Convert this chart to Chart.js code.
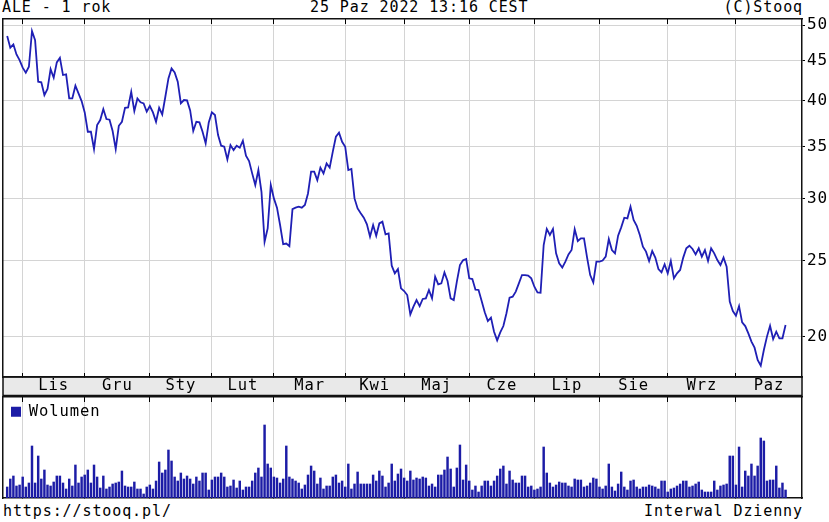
<!DOCTYPE html>
<html lang="pl">
<head>
<meta charset="utf-8">
<title>ALE - 1 rok</title>
<script src="https://cdn.jsdelivr.net/npm/chart.js@4.4.0/dist/chart.umd.min.js"></script>
<style>
  html, body { margin: 0; padding: 0; background: #fff; }
  #page {
    position: relative; width: 829px; height: 522px; overflow: hidden;
    font-family: "DejaVu Sans Mono", monospace; font-size: 15px;
    letter-spacing: 0.9px; color: #000;
  }
  .txt { position: absolute; line-height: 17px; white-space: nowrap; }
  canvas { position: absolute; left: 0; }
</style>
</head>
<body>
<div id="page">
  <div class="txt" style="left:2px; top:-1px;">ALE - 1 rok</div>
  <div class="txt" style="left:310px; top:-1px;">25 Paz 2022 13:16 CEST</div>
  <div class="txt" style="right:26px; top:-1px;">(C)Stooq</div>
  <canvas id="cena" width="829" height="397" style="top:0;"></canvas>
  <canvas id="wolumen" width="829" height="104" style="top:396px;"></canvas>
  <div class="txt" style="left:3px; top:503px;">https://stooq.pl/</div>
  <div class="txt" style="right:26px; top:503px;">Interwal Dzienny</div>
</div>

<script>
// miesiące i indeks pierwszej sesji w każdym z nich
const months = ['Lis', 'Gru', 'Sty', 'Lut', 'Mar', 'Kwi', 'Maj', 'Cze', 'Lip', 'Sie', 'Wrz', 'Paz'];
const monthStart = [5, 25, 46, 66, 86, 109, 128, 149, 170, 191, 213, 235];
const priceTicks = [20, 25, 30, 35, 40, 45, 50];

// kurs zamknięcia, sesje od 25.10.2021 do 25.10.2022
const prices = [
  48.41, 46.78, 47.24, 45.87, 45.11, 44.11, 43.47, 44.23, 49.13, 47.84,
  42.33, 42.25, 40.70, 41.43, 43.93, 42.83, 44.80, 45.42, 43.17, 43.25,
  40.30, 40.30, 41.83, 40.90, 39.99, 38.68, 36.54, 36.54, 34.73, 37.27,
  37.82, 39.06, 37.93, 37.86, 36.62, 34.73, 37.19, 37.63, 39.21, 39.25,
  41.10, 38.83, 40.30, 39.84, 39.72, 38.76, 39.41, 38.68, 37.63, 39.21,
  38.45, 40.50, 42.75, 44.02, 43.51, 42.33, 39.72, 40.11, 40.07, 38.91,
  36.62, 37.63, 37.56, 36.54, 35.31, 37.56, 38.68, 38.38, 36.19, 35.07,
  34.97, 33.69, 35.14, 34.62, 35.07, 34.86, 35.59, 34.06, 33.52, 32.33,
  31.24, 32.65, 30.63, 26.44, 27.50, 31.24, 30.04, 29.23, 27.78, 26.26,
  26.31, 26.11, 29.11, 29.23, 29.31, 29.23, 29.46, 30.48, 32.49, 32.49,
  31.70, 32.88, 32.33, 33.29, 32.88, 34.46, 36.01, 36.44, 35.48, 34.97,
  32.65, 32.75, 30.04, 29.17, 28.75, 28.38, 27.83, 26.84, 27.78, 26.92,
  27.91, 28.05, 27.02, 27.10, 24.65, 24.10, 24.41, 23.06, 22.88, 22.61,
  21.36, 21.85, 22.28, 21.89, 22.35, 22.39, 22.95, 22.39, 23.87, 23.33,
  23.40, 24.17, 23.56, 22.39, 22.28, 23.52, 24.70, 25.04, 25.14, 23.75,
  23.70, 22.97, 22.95, 22.22, 21.49, 20.95, 21.16, 20.30, 19.79, 20.26,
  20.64, 21.43, 22.44, 22.50, 22.84, 23.40, 23.98, 23.98, 23.94, 23.75,
  23.17, 22.79, 22.77, 26.19, 27.46, 26.98, 27.46, 25.56, 24.82, 24.51,
  24.94, 25.48, 25.81, 27.43, 26.50, 26.71, 26.71, 25.24, 23.98, 23.47,
  24.94, 24.94, 25.02, 25.31, 26.66, 25.81, 25.56, 26.92, 27.59, 28.38,
  28.33, 29.32, 28.19, 27.72, 26.98, 26.07, 25.69, 24.99, 25.73, 25.24,
  24.41, 24.17, 24.75, 24.10, 24.99, 23.75, 24.10, 24.34, 25.24, 25.94,
  26.14, 25.89, 25.48, 25.94, 25.31, 25.81, 24.99, 25.94, 25.56, 25.06,
  24.70, 25.24, 24.58, 22.18, 21.57, 21.28, 21.89, 20.87, 20.64, 20.20,
  19.72, 19.37, 18.68, 18.37, 19.24, 20.01, 20.66, 19.87, 20.30, 19.91,
  19.91, 20.70
];

// wolumen (tys. szt.)
const volumes = [
  1100, 1900, 2200, 1200, 1300, 2100, 1100, 1500, 5200, 1500,
  4200, 1900, 2800, 1300, 1200, 1600, 2200, 2200, 1500,  900,
  1900, 1200, 3300, 1500, 2100, 2300, 2800, 1500, 3300, 2100,
  1000, 2200,  900, 1100, 1400, 1500, 1600, 2700, 1200, 1100,
  1100, 1600,  900,  900,  400, 1100, 1300,  900, 1700, 3600,
  2500, 2800, 4800, 3700, 2100, 1700, 2500, 1900, 2200, 1900,
  1400, 2100, 1700, 2500, 2500,  800, 1800, 2100, 2100, 2500,
  2100, 1100, 1200, 1800, 1000, 1700,  800, 1100, 1100, 1700,
  2500, 3000, 2100, 7300, 3400, 3000, 2100, 2000, 1500, 1900,
  5200, 2100, 1900, 1700, 1500,  900, 1300, 2300, 3200, 2700,
  1400, 2000,  900, 1200, 1200, 2100, 2300, 1500, 1700, 1100,
  3400,  900, 1400, 2600, 1400, 1400, 1400, 1400, 2300, 1700,
  2700, 2200, 1100, 1500, 3400, 1700, 2400, 2900, 2000, 1700,
  2700, 1800, 2000, 1900, 2100, 2000, 1200, 1400, 1100, 2300,
  2300, 2800, 4100, 2900, 1100, 3000, 5300, 1800, 3300, 1700,
   800, 1200,  600, 1200, 1700, 1700, 1200, 1700, 2200, 2900,
  3200, 1400, 2700, 1800, 1500, 1500, 2200, 2200, 1100, 1200,
   800,  900, 1100, 5100, 2500, 1500, 1100, 1300, 1600, 1500,
  1500, 1200, 1100, 1900, 1800, 1800, 1100, 1200, 1500, 2000,
  1900, 1100,  900, 1200, 3400, 1100,  700, 1400, 2600, 1100,
   800, 1700, 1800, 1100,  900, 1100, 1100, 1300, 1200, 1100,
   900, 1700, 1700,  600,  900, 1000, 1200, 1400, 1700, 1700,
  1100, 1200, 1400, 1600,  800,  600,  600,  600, 1700,  800,
  1200, 1300, 1400, 4200, 4200, 1300, 5100, 1100, 2700, 2200,
  3400, 2200, 3200, 6000, 5700, 1700, 1800, 1800, 3200, 1000,
  1500,  800
];

const X_MIN = -1.35;
const X_MAX = 256.3;
const gridGray = '#d4d4d4';
const frame = '#111';

Chart.defaults.font.family = "'DejaVu Sans Mono', monospace";
Chart.defaults.font.size = 15;
Chart.defaults.color = '#000';

const monthMid = monthStart.map((s, i) => (s + (i < monthStart.length - 1 ? monthStart[i + 1] : X_MAX)) / 2);

function setTicks(values) {
  return scale => { scale.ticks = values.map(v => ({ value: v })); };
}

// szary pasek z nazwami miesięcy
const monthBand = {
  id: 'monthBand',
  beforeDraw(chart) {
    const s = chart.scales.xm;
    const ctx = chart.ctx;
    ctx.save();
    ctx.fillStyle = '#e9e9e9';
    ctx.fillRect(s.left, s.top, s.right - s.left, s.bottom - s.top);
    ctx.strokeStyle = frame;
    ctx.lineWidth = 1.5;
    ctx.strokeRect(s.left, s.top, s.right - s.left, s.bottom - s.top - 0.5);
    ctx.restore();
  }
};

function monthGridAxis(position, tickLen) {
  return {
    type: 'linear', position: position, min: X_MIN, max: X_MAX, offset: false,
    afterBuildTicks: setTicks(monthStart),
    afterFit: s => { s.height = 0; },
    ticks: { display: false },
    grid: {
      offset: false,
      drawOnChartArea: position === 'bottom',
      color: gridGray, tickColor: '#000', tickLength: tickLen, lineWidth: 1
    },
    border: { display: true, color: frame, width: 1.5 }
  };
}

function sideAxis(position, width) {
  return {
    position: position, display: true,
    afterFit: s => { s.width = width; },
    ticks: { display: false },
    grid: { display: false, drawTicks: false },
    border: { display: true, color: frame, width: 1.5 }
  };
}

new Chart(document.getElementById('cena'), {
  type: 'line',
  data: {
    datasets: [{
      label: 'ALE',
      data: prices.map((v, i) => ({ x: i, y: v })),
      borderColor: '#1f1fb5',
      borderWidth: 1.8,
      pointRadius: 0,
      tension: 0,
      xAxisID: 'x',
      yAxisID: 'y'
    }]
  },
  options: {
    responsive: false,
    animation: false,
    events: [],
    layout: { padding: { left: 3, top: 19, right: 0, bottom: 1 } },
    plugins: { legend: { display: false }, tooltip: { enabled: false } },
    scales: {
      x: monthGridAxis('bottom', -4),
      xt: monthGridAxis('top', -5),
      xm: {
        type: 'linear', position: 'bottom', weight: 1, min: X_MIN, max: X_MAX, offset: false,
        afterBuildTicks: setTicks(monthMid),
        afterFit: s => { s.height = 19; },
        ticks: {
          padding: 0, maxRotation: 0, autoSkip: false,
          font: { size: 15.5, lineHeight: 1.2 },
          callback: (v, i) => months[i]
        },
        grid: { display: false, drawTicks: false },
        border: { display: false }
      },
      y: {
        type: 'logarithmic', position: 'right', min: 17.77, max: 50.9,
        afterBuildTicks: setTicks(priceTicks),
        afterFit: s => { s.width = 27; },
        ticks: { padding: 2, autoSkip: false, font: { size: 16 }, callback: v => String(v) },
        grid: { color: gridGray, tickColor: '#000', tickLength: 3, lineWidth: 1 },
        border: { display: true, color: frame, width: 1.5 }
      },
      yl: sideAxis('left', 0)
    }
  },
  plugins: [monthBand]
});

new Chart(document.getElementById('wolumen'), {
  type: 'bar',
  data: {
    datasets: [{
      label: 'Wolumen',
      data: volumes.map((v, i) => ({ x: i, y: v })),
      backgroundColor: '#1c1ca6',
      borderWidth: 0,
      barThickness: 1.8,
      xAxisID: 'x',
      yAxisID: 'y'
    }]
  },
  options: {
    responsive: false,
    animation: false,
    events: [],
    layout: { padding: { left: 3, top: 1, right: 0, bottom: 2 } },
    plugins: {
      tooltip: { enabled: false },
      legend: {
        position: 'chartArea', align: 'start',
        labels: { boxWidth: 10, boxHeight: 10, padding: 8, font: { size: 15.5 } }
      }
    },
    scales: {
      x: monthGridAxis('bottom', 0),
      xt: monthGridAxis('top', -5),
      y: Object.assign(sideAxis('right', 27), { type: 'linear', min: 0, max: 10100 }),
      yl: sideAxis('left', 0)
    }
  }
});
</script>
</body>
</html>
